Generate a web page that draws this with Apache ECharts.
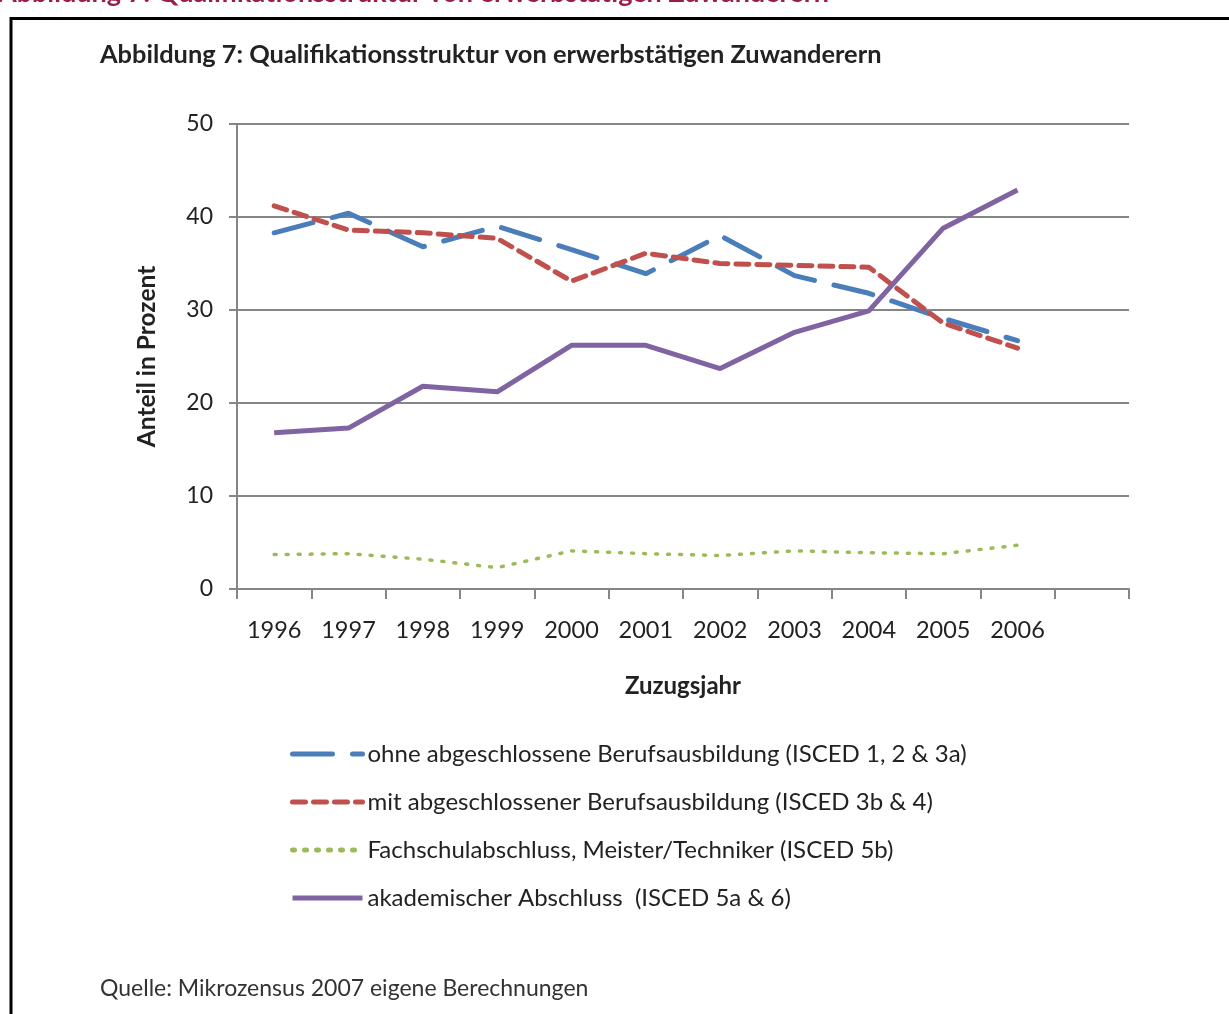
<!DOCTYPE html>
<html>
<head>
<meta charset="utf-8">
<script src="https://cdn.jsdelivr.net/npm/echarts@6/dist/echarts.min.js"></script>
<style>
  html, body { margin: 0; padding: 0; background: #fff; }
  #chart { width: 1229px; height: 1014px; }
</style>
</head>
<body>
<div id="chart"></div>
<script>
var years = ['1996', '1997', '1998', '1999', '2000', '2001', '2002', '2003', '2004', '2005', '2006', ''];
var ohne = [38.3, 40.4, 36.8, 39.0, 36.5, 33.9, 38.0, 33.7, 31.8, 29.1, 26.7];
var mit = [41.2, 38.6, 38.3, 37.7, 33.1, 36.1, 35.0, 34.8, 34.6, 28.6, 25.9];
var fachschule = [3.7, 3.8, 3.2, 2.3, 4.1, 3.8, 3.6, 4.1, 3.9, 3.8, 4.7];
var akademisch = [16.8, 17.3, 21.8, 21.2, 26.2, 26.2, 23.7, 27.6, 29.9, 38.8, 42.9];
var seriesNames = [
  'ohne abgeschlossene Berufsausbildung (ISCED 1, 2 & 3a)',
  'mit abgeschlossener Berufsausbildung (ISCED 3b & 4)',
  'Fachschulabschluss, Meister/Techniker (ISCED 5b)',
  'akademischer Abschluss  (ISCED 5a & 6)'
];

var font = 'Lato';
var myChart = echarts.init(document.getElementById('chart'));

var option = {
  backgroundColor: '#fff',
  animation: false,
  textStyle: { fontFamily: font },
  graphic: [
    // cut-off heading at the very top
    { type: 'text', left: -2, top: -20,
      style: { text: 'Abbildung 7: Qualifikationsstruktur von erwerbstätigen Zuwanderern',
               fill: '#9a1c4c', font: 'bold 27px ' + font } },
    // frame
    { type: 'polyline', shape: { points: [[11, 1014], [11, 18.5], [1229, 18.5]] },
      style: { stroke: '#000', lineWidth: 3, fill: null } },
    { type: 'text', left: 100, top: 42,
      style: { text: 'Abbildung 7: Qualifikationsstruktur von erwerbstätigen Zuwanderern',
               fill: '#222', font: 'bold 25.4px ' + font } },
    { type: 'text', left: 100, top: 977,
      style: { text: 'Quelle: Mikrozensus 2007 eigene Berechnungen',
               fill: '#333', font: '23px ' + font } }
  ],
  grid: { left: 237, right: 100, top: 124, bottom: 425 },
  legend: {
    orient: 'vertical',
    left: 290,
    top: 741,
    padding: 0,
    itemWidth: 70,
    itemHeight: 14,
    itemGap: 22,
    selectedMode: false,
    itemStyle: { opacity: 0 },
    lineStyle: { width: 5 },
    textStyle: { fontSize: 24, color: '#222', lineHeight: 26, fontFamily: font },
    data: seriesNames
  },
  xAxis: {
    type: 'category',
    data: years,
    boundaryGap: true,
    name: 'Zuzugsjahr',
    nameLocation: 'middle',
    nameGap: 85,
    nameTextStyle: { fontSize: 24, fontWeight: 'bold', color: '#222' },
    axisLine: { lineStyle: { color: '#868686', width: 2 } },
    axisTick: { show: true, length: 10, interval: 0, lineStyle: { color: '#868686', width: 2 } },
    axisLabel: { fontSize: 23.5, color: '#222', margin: 29, interval: 0 }
  },
  yAxis: {
    type: 'value',
    min: 0,
    max: 50,
    interval: 10,
    name: 'Anteil in Prozent',
    nameLocation: 'middle',
    nameGap: 77,
    nameRotate: 90,
    nameTextStyle: { fontSize: 24.5, fontWeight: 'bold', color: '#222' },
    axisLine: { show: true, lineStyle: { color: '#868686', width: 2 } },
    axisTick: { show: true, length: 8, lineStyle: { color: '#868686', width: 2 } },
    axisLabel: { fontSize: 23, color: '#222', margin: 24 },
    splitLine: { lineStyle: { color: '#868686', width: 2 } }
  },
  series: [
    { name: seriesNames[0], type: 'line', data: ohne, symbol: 'none',
      lineStyle: { color: '#4a7ebb', width: 5, type: [40, 20], cap: 'round' },
      itemStyle: { color: '#4a7ebb' } },
    { name: seriesNames[1], type: 'line', data: mit, symbol: 'none',
      lineStyle: { color: '#c0504d', width: 5, type: [13, 8], cap: 'round' },
      itemStyle: { color: '#c0504d' } },
    { name: seriesNames[2], type: 'line', data: fachschule, symbol: 'none',
      lineStyle: { color: '#9bbb59', width: 3.5, type: [2, 10], cap: 'round' },
      itemStyle: { color: '#9bbb59' } },
    { name: seriesNames[3], type: 'line', data: akademisch, symbol: 'none',
      lineStyle: { color: '#8064a2', width: 5 },
      itemStyle: { color: '#8064a2' } }
  ]
};

myChart.setOption(option);
</script>
</body>
</html>
